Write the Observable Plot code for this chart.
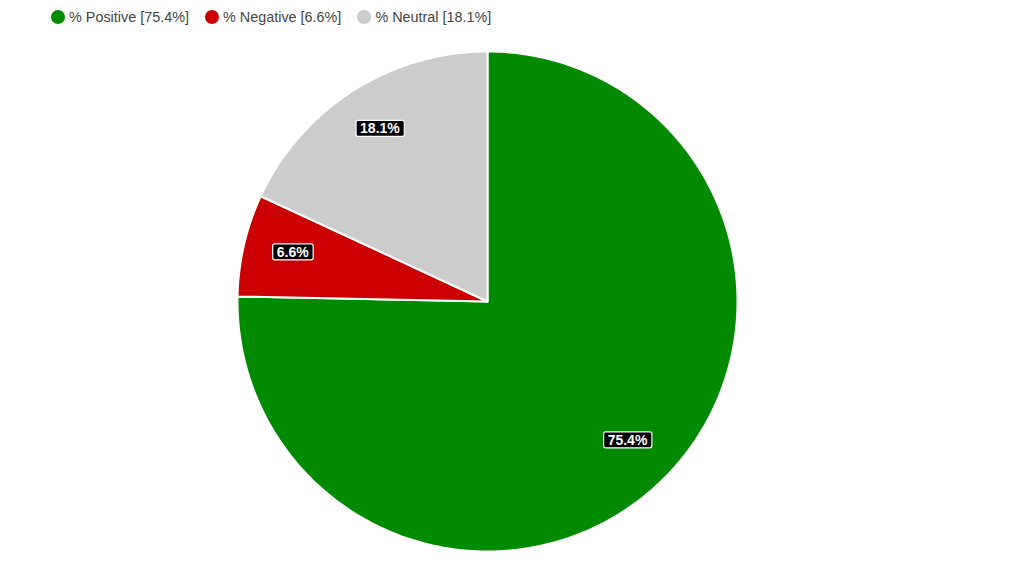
<!DOCTYPE html>
<html><head><meta charset="utf-8">
<script src="https://cdn.jsdelivr.net/npm/d3@7"></script>
<script src="https://cdn.jsdelivr.net/npm/@observablehq/plot@0.6"></script>
<style>
body{margin:0;background:#fff;font-family:"Liberation Sans",Arial,sans-serif;}
#legend{height:34px;display:flex;align-items:center;padding-left:51px;font-size:14.4px;color:#444;}
.item{display:flex;align-items:center;margin-right:16px}
.sw{width:14px;height:14px;border-radius:50%;margin-right:4px}
</style></head><body>
<div id="legend"></div><div id="chart"></div>
<script>
const categories = ["% Positive", "% Negative", "% Neutral"];
const values = [75.4, 6.6, 18.1];
const colors = ["#008a00", "#cc0000", "#cccccc"];

// legend
const legend = document.getElementById("legend");
categories.forEach((c, i) => {
  const it = document.createElement("div"); it.className = "item";
  const sw = document.createElement("span"); sw.className = "sw"; sw.style.background = colors[i];
  const tx = document.createElement("span"); tx.textContent = `${c} [${values[i].toFixed(1)}%]`;
  it.append(sw, tx); legend.append(it);
});

const total = d3.sum(values);
let acc = 0;
const slices = categories.map((c, i) => {
  const a0 = acc / total * 2 * Math.PI; acc += values[i];
  const a1 = acc / total * 2 * Math.PI;
  return {c, v: values[i], a0, a1, mid: (a0 + a1) / 2};
});
const pts = slices.flatMap(s => {
  const n = Math.max(2, Math.ceil((s.a1 - s.a0) / (Math.PI / 180)));
  const arr = [{c: s.c, x: 0, y: 0}];
  for (let k = 0; k <= n; k++) {
    const a = s.a0 + (s.a1 - s.a0) * k / n;
    arr.push({c: s.c, x: Math.sin(a), y: Math.cos(a)});
  }
  arr.push({c: s.c, x: 0, y: 0});
  return arr;
});

const chart = Plot.plot({
  width: 1024, height: 542, margin: 0,
  x: {domain: [-1, 1], range: [237, 737], axis: null},
  y: {domain: [-1, 1], range: [517, 17], axis: null},
  color: {domain: categories, range: colors},
  marks: [
    Plot.line(pts, {x: "x", y: "y", z: "c", fill: "c", stroke: "white", strokeWidth: 2, curve: "linear"}),
    Plot.text(slices, {
      x: d => 0.8 * Math.sin(d.mid), y: d => 0.8 * Math.cos(d.mid), dy: -4,
      text: d => d.v.toFixed(1) + "%", fill: "white", fontWeight: "bold", fontSize: 14,
      fontFamily: "Liberation Sans, Arial, sans-serif"
    })
  ]
});
document.getElementById("chart").append(chart);
chart.querySelectorAll('g[aria-label="text"] text').forEach(t => {
  const b = t.getBBox();
  const r = document.createElementNS("http://www.w3.org/2000/svg", "rect");
  r.setAttribute("x", b.x - 4); r.setAttribute("y", b.y);
  r.setAttribute("width", b.width + 8); r.setAttribute("height", b.height);
  r.setAttribute("rx", 2); r.setAttribute("fill", "black");
  r.setAttribute("stroke", "white"); r.setAttribute("stroke-width", 1.2);
  const tr = t.getAttribute("transform"); if (tr) r.setAttribute("transform", tr);
  t.parentNode.insertBefore(r, t);
});
</script></body></html>
